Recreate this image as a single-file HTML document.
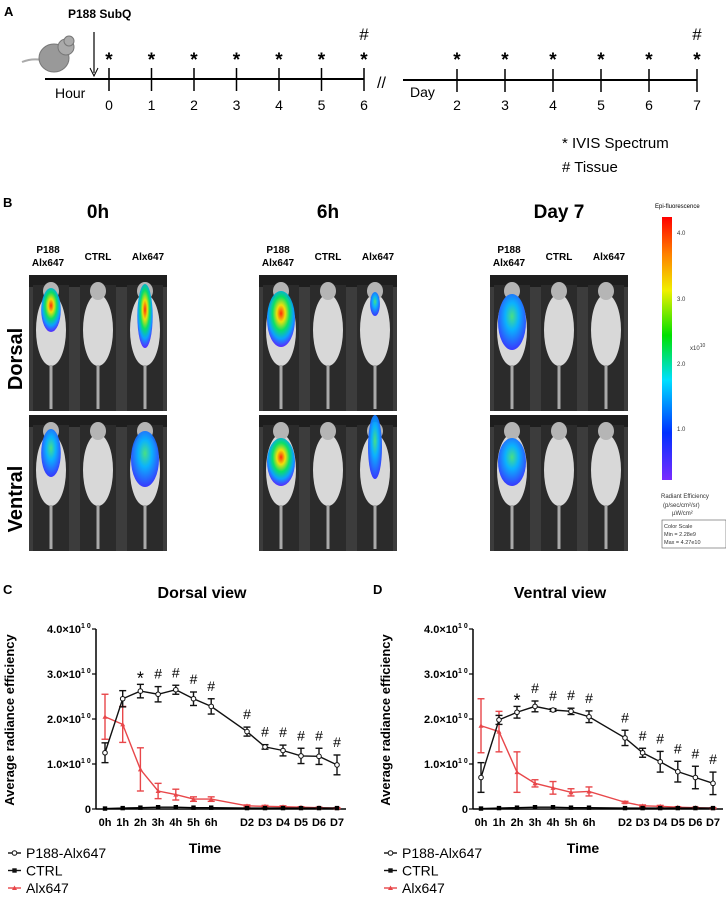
<!DOCTYPE html>
<html><head><meta charset="utf-8"><style>
body{margin:0;background:#fff;width:726px;height:899px;overflow:hidden;font-family:"Liberation Sans",Arial,sans-serif}
svg{display:block}
text{font-family:"Liberation Sans",Arial,sans-serif}
</style></head><body>
<svg id="fig" width="726" height="899" viewBox="0 0 726 899">
<defs>
<linearGradient id="cbar" x1="0" y1="1" x2="0" y2="0">
<stop offset="0" stop-color="#7a2cff"/><stop offset="0.18" stop-color="#0030ff"/><stop offset="0.38" stop-color="#00e0ff"/><stop offset="0.55" stop-color="#00e000"/><stop offset="0.72" stop-color="#f0f000"/><stop offset="0.86" stop-color="#ff8000"/><stop offset="1" stop-color="#ff0000"/>
</linearGradient>
<radialGradient id="heat" cx="0.5" cy="0.4" r="0.6">
<stop offset="0" stop-color="#ff2000"/><stop offset="0.25" stop-color="#f0e000"/><stop offset="0.5" stop-color="#00e060"/><stop offset="0.75" stop-color="#00a0ff"/><stop offset="1" stop-color="#5020ff"/>
</radialGradient>
<radialGradient id="cool" cx="0.5" cy="0.4" r="0.6">
<stop offset="0" stop-color="#40e080"/><stop offset="0.4" stop-color="#00b0ff"/><stop offset="1" stop-color="#3030ff"/>
</radialGradient>
</defs>

<!-- Panel A -->
<g>
<text x="4" y="16" font-size="13" font-weight="bold">A</text>
<text x="68" y="18" font-size="12" font-weight="bold">P188 SubQ</text>
<g>
<path d="M22 62 Q32 58 42 60" stroke="#aaa" stroke-width="2" fill="none"/>
<ellipse cx="54" cy="58" rx="15" ry="14" fill="#999" stroke="#777"/>
<circle cx="66" cy="47" r="8" fill="#aaa" stroke="#777"/>
<circle cx="69" cy="41" r="5" fill="#aaa" stroke="#777"/>
</g>
<line x1="94" y1="32" x2="94" y2="73" stroke="#000" stroke-width="1.2"/>
<path d="M90 68 L94 76 L98 68" stroke="#000" fill="none"/>
<line x1="45" y1="79" x2="364" y2="79" stroke="#000" stroke-width="2"/>
<line x1="403" y1="80" x2="697" y2="80" stroke="#000" stroke-width="2"/>
<text x="377" y="88" font-size="16">//</text>
<text x="55" y="98" font-size="14">Hour</text>
<text x="410" y="97" font-size="14">Day</text>
<g id="tl"></g>
<text x="562" y="148" font-size="15">* IVIS Spectrum</text>
<text x="562" y="172" font-size="15"># Tissue</text>
</g>

<!-- Panel B -->
<g>
<text x="3" y="207" font-size="13" font-weight="bold">B</text>
<g id="imgs"></g>
<text x="8" y="345" font-size="20" font-weight="bold" transform="rotate(-90 22 345)" text-anchor="middle">Dorsal</text>
<text x="8" y="485" font-size="20" font-weight="bold" transform="rotate(-90 22 485)" text-anchor="middle">Ventral</text>
<text x="655" y="208" font-size="6">Epi-fluorescence</text>
<rect x="662" y="217" width="10" height="263" fill="url(#cbar)"/>
<g font-size="6" fill="#333">
<text x="677" y="235">4.0</text><text x="677" y="301">3.0</text><text x="677" y="366">2.0</text><text x="677" y="431">1.0</text>
<text x="690" y="350">x10<tspan font-size="5" dy="-3">10</tspan></text>
<text x="661" y="498">Radiant Efficiency</text>
<text x="663" y="507">(p/sec/cm²/sr)</text><text x="672" y="515">µW/cm²</text>
</g>
<rect x="662" y="520" width="64" height="28" fill="#fff" stroke="#555" stroke-width="0.6"/>
<g font-size="5.5" fill="#333"><text x="664" y="528">Color Scale</text><text x="664" y="536">Min = 2.28e9</text><text x="664" y="544">Max = 4.27e10</text></g>
</g>

<!-- Panels C/D -->
<g id="chartC"></g>
<g id="chartD"></g>
<text x="3" y="594" font-size="13" font-weight="bold">C</text>
<text x="373" y="594" font-size="13" font-weight="bold">D</text>
</svg>
<script>
const NS="http://www.w3.org/2000/svg";
function mk(parent,tag,attrs,txt){const e=document.createElementNS(NS,tag);for(const k in attrs)e.setAttribute(k,attrs[k]);if(txt!==undefined)e.textContent=txt;parent.appendChild(e);return e;}

// timeline
const hourTicks=[0,1,2,3,4,5,6];
const dayTicks=[2,3,4,5,6,7];
const tl=document.getElementById('tl');
const hx=h=>109+h*42.5;
const dx=d=>457+(d-2)*48;
hourTicks.forEach(h=>{
 const t=mk(tl,'line',{x1:hx(h),y1:68,x2:hx(h),y2:91,stroke:'#000','stroke-width':1.5});
 
 
 mk(tl,'text',{x:hx(h),y:110,'font-size':14,'text-anchor':'middle'},String(h));
 mk(tl,'text',{x:hx(h),y:66,'font-size':19,'font-weight':'bold','text-anchor':'middle'},'*');
});
dayTicks.forEach(d=>{
 const t=mk(tl,'line',{x1:dx(d),y1:69,x2:dx(d),y2:92,stroke:'#000','stroke-width':1.5});
 
 
 mk(tl,'text',{x:dx(d),y:110,'font-size':14,'text-anchor':'middle'},String(d));
 mk(tl,'text',{x:dx(d),y:66,'font-size':19,'font-weight':'bold','text-anchor':'middle'},'*');
});
mk(tl,'text',{x:hx(6),y:40,'font-size':17,'text-anchor':'middle'},'#');
mk(tl,'text',{x:dx(7),y:40,'font-size':17,'text-anchor':'middle'},'#');

// images
const groups=[{x:29,title:'0h'},{x:259,title:'6h'},{x:490,title:'Day 7'}];
const imgs=document.getElementById('imgs');
const sig={ '0h':[['heat',0.5,0.25,0.55],null,['heat',0.35,0.35,0.8]], '6h':[['heat',0.9,0.4,0.7],null,['cool',0.15,0.15,0.3]], 'Day 7':[['cool',0.9,0.45,0.7],null,null]};
const sigV={ '0h':[['cool',0.5,0.3,0.6],null,['cool',0.9,0.4,0.7]], '6h':[['heat',0.95,0.45,0.6],null,['cool',0.3,0.2,0.8]], 'Day 7':[['cool',0.95,0.45,0.6],null,null]};
groups.forEach(g=>{
 const c=g.x+69;
 const t=mk(imgs,'text',{x:c,y:218,'font-size':19,'font-weight':'bold','text-anchor':'middle'},g.title);
 
 
 const lab=[['P188','Alx647'],['CTRL'],['Alx647']];
 lab.forEach((l,i)=>{
  const lx=g.x+19+i*50;
  if(l.length==2){mk(imgs,'text',{x:lx,y:253,'font-size':10,'font-weight':'bold','text-anchor':'middle'},l[0]);mk(imgs,'text',{x:lx,y:266,'font-size':10,'font-weight':'bold','text-anchor':'middle'},l[1]);}
  else mk(imgs,'text',{x:lx,y:260,'font-size':10,'font-weight':'bold','text-anchor':'middle'},l[0]);
 });
 [[275,sig],[415,sigV]].forEach(([y,s])=>{
  const r=mk(imgs,'rect',{x:g.x,y:y,width:138,height:136,fill:'#3c3c3c'});
  
  
  mk(imgs,'rect',{x:g.x,y:y,width:138,height:12,fill:'#1e1e1e'});
  for(let i=0;i<3;i++){
   const mx=g.x+22+i*47;
   mk(imgs,'rect',{x:mx-18,y:y+10,width:36,height:126,fill:'#2b2b2b'});
   mk(imgs,'ellipse',{cx:mx,cy:y+55,rx:15,ry:36,fill:'#d8d8d8'});
   mk(imgs,'ellipse',{cx:mx,cy:y+16,rx:8,ry:9,fill:'#b5b5b5'});
   mk(imgs,'line',{x1:mx,y1:y+90,x2:mx,y2:y+134,stroke:'#aaa','stroke-width':3});
   const sg=s[g.title][i];
   if(sg){mk(imgs,'ellipse',{cx:mx,cy:y+20+sg[2]*60,rx:14*Math.min(1,sg[1]+0.2),ry:40*sg[3],fill:'url(#'+sg[0]+')',opacity:0.95});}
  }
 });
});

// ===== chart data =====
const categories=['0h','1h','2h','3h','4h','5h','6h','D2','D3','D4','D5','D6','D7'];
const yTicks=[0,1,2,3,4];
const yTickLabels=['0','1.0×10','2.0×10','3.0×10','4.0×10'];
const dorsalP188=[1.25,2.45,2.62,2.55,2.65,2.45,2.28,1.72,1.38,1.30,1.18,1.17,0.98];
const dorsalP188Err=[0.22,0.18,0.15,0.17,0.10,0.15,0.17,0.10,0.05,0.12,0.17,0.18,0.22];
const dorsalAlx=[2.05,1.88,0.88,0.40,0.32,0.22,0.22,0.07,0.06,0.05,0.04,0.03,0.02];
const dorsalAlxErr=[0.50,0.40,0.48,0.17,0.12,0.05,0.05,0.02,0.02,0.02,0.01,0.01,0.01];
const dorsalCtrl=[0.01,0.02,0.03,0.04,0.04,0.03,0.03,0.02,0.02,0.02,0.02,0.02,0.02];
const dorsalMarks=['','','*','#','#','#','#','#','#','#','#','#','#'];
const ventralP188=[0.70,1.98,2.15,2.28,2.20,2.17,2.05,1.58,1.25,1.05,0.83,0.70,0.57];
const ventralP188Err=[0.33,0.10,0.13,0.12,0.03,0.07,0.13,0.17,0.10,0.23,0.23,0.25,0.25];
const ventralAlx=[1.85,1.72,0.82,0.57,0.47,0.37,0.39,0.15,0.07,0.06,0.04,0.03,0.02];
const ventralAlxErr=[0.60,0.45,0.45,0.08,0.14,0.08,0.10,0.02,0.02,0.02,0.01,0.01,0.01];
const ventralCtrl=[0.01,0.02,0.03,0.04,0.04,0.03,0.03,0.02,0.02,0.02,0.02,0.02,0.02];
const ventralMarks=['','','*','#','#','#','#','#','#','#','#','#','#'];
const legendLabels=['P188-Alx647','CTRL','Alx647'];

function drawChart(g,o){
 const x0=o.x0, y0=809, pxPer=45;
 const yS=v=>y0-v*pxPer;
 const xS=i=> i<7 ? o.h0+i*o.hs : o.d2+(i-7)*o.ds;
 mk(g,'text',{x:o.tx,y:598,'font-size':16,'font-weight':'bold','text-anchor':'middle'},o.title);
 mk(g,'line',{x1:o.ax,y1:629,x2:o.ax,y2:y0,stroke:'#000','stroke-width':1.5});
 mk(g,'line',{x1:o.ax,y1:y0,x2:o.ax+250,y2:y0,stroke:'#000','stroke-width':1.5});
 yTicks.forEach((v,i)=>{
  mk(g,'line',{x1:o.ax-4,y1:yS(v),x2:o.ax,y2:yS(v),stroke:'#000','stroke-width':1.2});
  const t=mk(g,'text',{x:o.ax-(i?15:5),y:yS(v)+4,'font-size':11,'font-weight':'bold','text-anchor':'end'},yTickLabels[i]);
  
  
  if(i) mk(g,'text',{x:o.ax-15,y:yS(v)-1,'font-size':7,'font-weight':'bold'},'1 0');
 });
 categories.forEach((c,i)=>{
  const t=mk(g,'text',{x:xS(i),y:826,'font-size':11,'font-weight':'bold','text-anchor':'middle'},c);
  
  
 });
 const yl=mk(g,'text',{x:o.ylx,y:720,'font-size':13,'font-weight':'bold','text-anchor':'middle',transform:`rotate(-90 ${o.ylx} 720)`},'Average radiance efficiency');
 
 
 const xl=mk(g,'text',{x:o.xlx,y:853,'font-size':14,'font-weight':'bold','text-anchor':'middle'},'Time');
 
 
 const series=[[o.alx,o.alxErr,'#e8474a','tri'],[o.ctrl,null,'#000','sq'],[o.p188,o.p188Err,'#111','circ']];
 series.forEach(([vals,err,col,shape])=>{
  const pts=vals.map((v,i)=>xS(i)+','+yS(v)).join(' ');
  const pl=mk(g,'polyline',{points:pts,fill:'none',stroke:col,'stroke-width':1.4});
  
  
  vals.forEach((v,i)=>{
   const x=xS(i),y=yS(v);
   if(err){const e=err[i];
    mk(g,'line',{x1:x,y1:yS(v+e),x2:x,y2:yS(v-e),stroke:col,'stroke-width':1.4});
    mk(g,'line',{x1:x-3.5,y1:yS(v+e),x2:x+3.5,y2:yS(v+e),stroke:col,'stroke-width':1.4});
    mk(g,'line',{x1:x-3.5,y1:yS(v-e),x2:x+3.5,y2:yS(v-e),stroke:col,'stroke-width':1.4});}
   let m;
   if(shape=='circ') m=mk(g,'circle',{cx:x,cy:y,r:2.3,fill:'#fff',stroke:col,'stroke-width':1});
   else if(shape=='sq') m=mk(g,'rect',{x:x-2.2,y:y-2.2,width:4.4,height:4.4,fill:col});
   else m=mk(g,'path',{d:`M${x-2.5},${y+2} L${x+2.5},${y+2} L${x},${y-2.5}Z`,fill:col});
   
   
  });
 });
 o.marks.forEach((mkc,i)=>{ if(!mkc) return;
  const top=yS(o.p188[i]+o.p188Err[i]);
  mk(g,'text',{x:xS(i),y:top-(mkc=='*'?0:8),'font-size':mkc=='*'?18:14,'text-anchor':'middle',fill:'#000'},mkc);
 });
 // legend
 legendLabels.forEach((l,i)=>{
  const y=853+i*17.5;
  const col=i==2?'#e8474a':'#111';
  mk(g,'line',{x1:o.lx,y1:y,x2:o.lx+13,y2:y,stroke:col,'stroke-width':1.4});
  if(i==0) mk(g,'circle',{cx:o.lx+6.5,cy:y,r:2.3,fill:'#fff',stroke:col});
  else if(i==1) mk(g,'rect',{x:o.lx+4.3,y:y-2.2,width:4.4,height:4.4,fill:col});
  else mk(g,'path',{d:`M${o.lx+4},${y+2} L${o.lx+9},${y+2} L${o.lx+6.5},${y-2.5}Z`,fill:col});
  const t=mk(g,'text',{x:o.lx+18,y:y+5,'font-size':14},l);
  
  
 });
}
drawChart(document.getElementById('chartC'),{title:'Dorsal view',tx:202,ax:96,h0:105,hs:17.7,d2:247,ds:18,ylx:14,xlx:205,lx:8,
 p188:dorsalP188,p188Err:dorsalP188Err,alx:dorsalAlx,alxErr:dorsalAlxErr,ctrl:dorsalCtrl,marks:dorsalMarks});
drawChart(document.getElementById('chartD'),{title:'Ventral view',tx:560,ax:473,h0:481,hs:18,d2:625,ds:17.6,ylx:390,xlx:583,lx:384,
 p188:ventralP188,p188Err:ventralP188Err,alx:ventralAlx,alxErr:ventralAlxErr,ctrl:ventralCtrl,marks:ventralMarks});
</script>
</body></html>
